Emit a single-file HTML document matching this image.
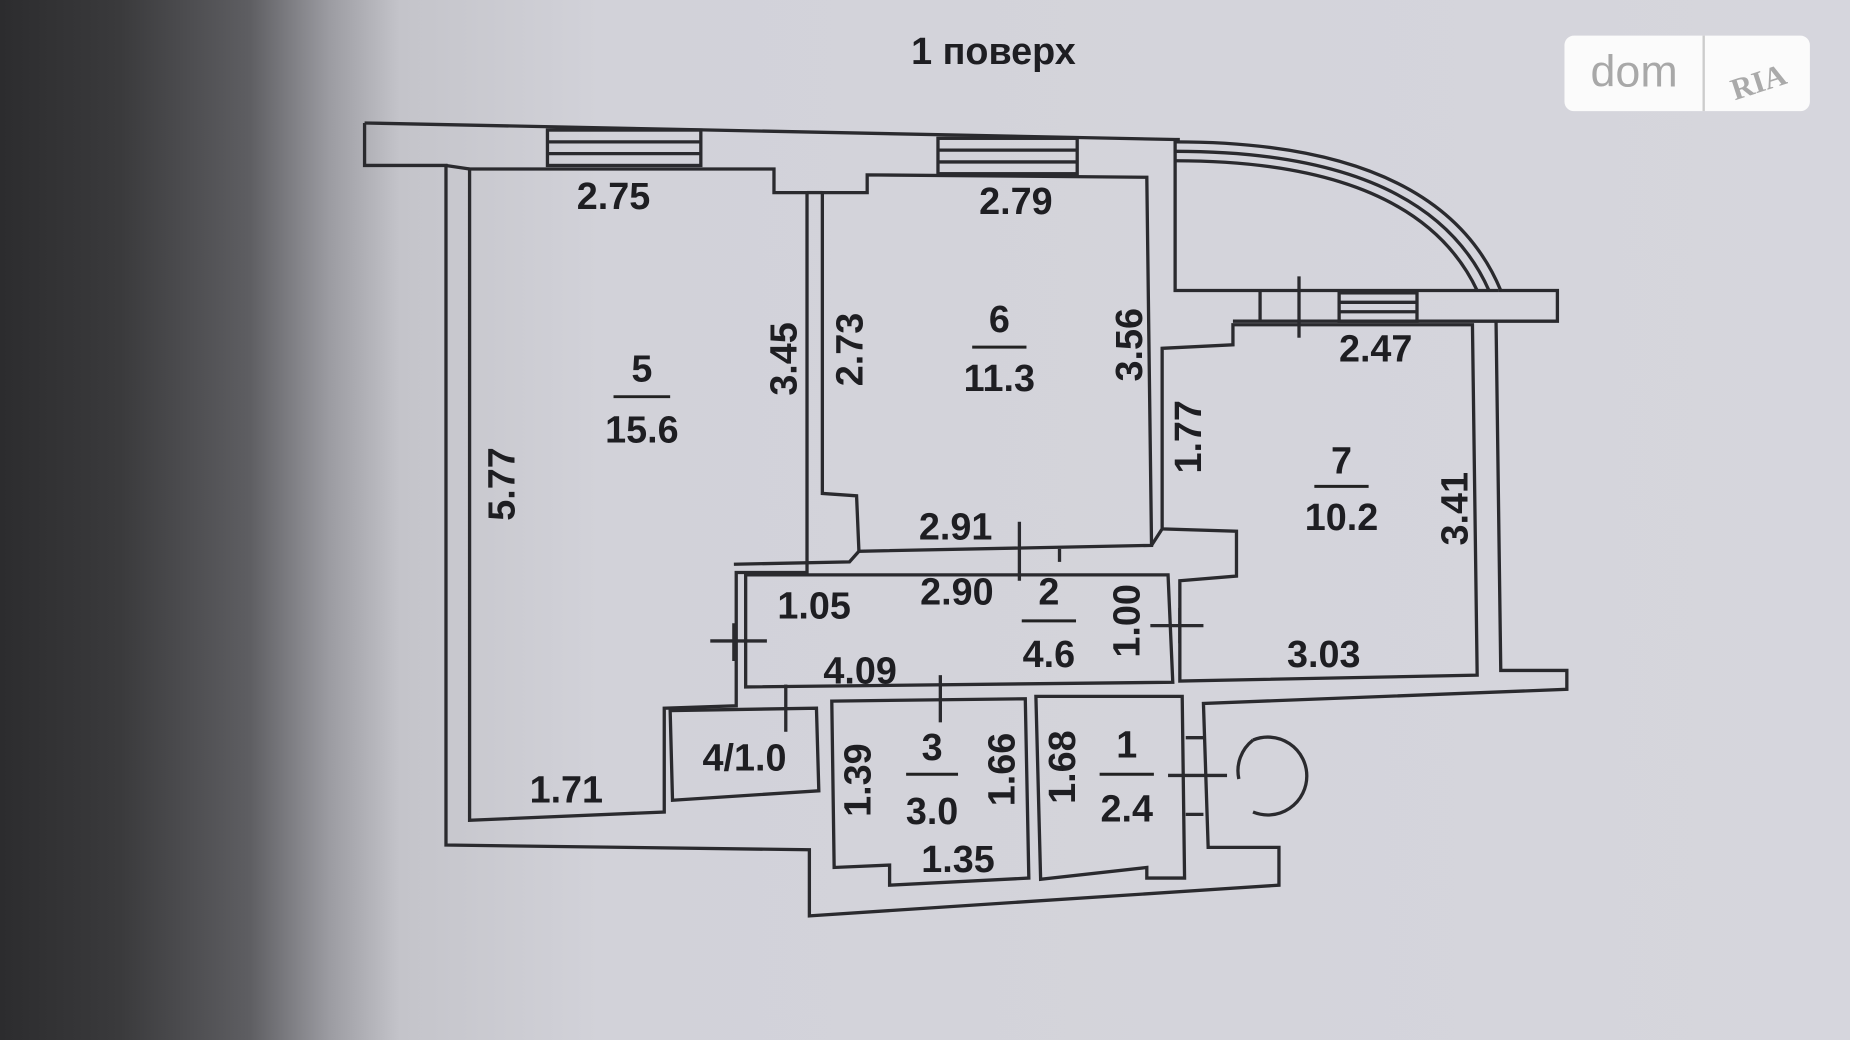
<!DOCTYPE html>
<html><head><meta charset="utf-8"><style>
html,body{margin:0;padding:0;width:1850px;height:1040px;overflow:hidden}
body{background:linear-gradient(90deg,#2c2c2e 0px,#3a3a3c 120px,#5e5e62 250px,#9c9ca2 330px,#c4c4ca 400px,#d2d2d9 600px,#d6d6dd 1850px)}
svg{position:absolute;left:0;top:0}
text{font-family:"Liberation Sans",sans-serif;font-weight:bold;fill:#1e1e22}
</style></head><body>
<svg width="1850" height="1040" viewBox="0 0 1568 881">
<g fill="none" stroke="#2a2a2e" stroke-width="2.8">
<polyline points="309,104 996,118 1000,118"/>
<polyline points="309,104 309,140 378,140 378,716 686,720 686,776 1084,750 1084,718 1024,718 1020,596 1328,584 1328,568 1272,568 1268,272 1320,272 1320,246 1270,246"/>
<polyline points="378,140 398,143"/>
<polygon points="398,143 656,143 656,163 684,163 684,485 624,485 624,598 563,600 563,688 398,695"/>
<polygon points="697,163 735,163 735,148 972,150 976,462 728,467 726,420 697,418"/>
<line x1="684" y1="163" x2="697" y2="163"/>
<polygon points="985,295 1045,292 1045,275 1248,275 1252,572 1000,577 1000,492 1048,488 1048,450 985,448"/>
<polyline points="996,118 996,246 1270,246"/>
<path d="M996,120 Q1220,120 1272,246"/>
<path d="M996,128 Q1210,128 1262,246"/>
<path d="M996,136 Q1200,136 1252,246"/>
<line x1="1068" y1="246" x2="1068" y2="272"/><line x1="1045" y1="272" x2="1268" y2="272"/>
<line x1="1101" y1="234" x2="1101" y2="286"/>
<rect x="464" y="110" width="130" height="30"/><line x1="464" y1="120" x2="594" y2="120"/><line x1="464" y1="130" x2="594" y2="130"/>
<rect x="795" y="117" width="118" height="30"/><line x1="795" y1="127" x2="913" y2="127"/><line x1="795" y1="137" x2="913" y2="137"/>
<rect x="1135" y="248" width="66" height="24"/><line x1="1135" y1="256" x2="1201" y2="256"/><line x1="1135" y1="264" x2="1201" y2="264"/>
<polygon points="632,487 990,487 994,578 632,582"/>
<polyline points="622,478 720,476 728,467"/><polyline points="976,462 985,448"/>
<line x1="898" y1="465" x2="898" y2="476"/><line x1="864" y1="442" x2="864" y2="492"/>
<line x1="602" y1="543" x2="650" y2="543"/><line x1="622" y1="528" x2="622" y2="560"/>
<line x1="975" y1="530" x2="1020" y2="530"/><line x1="1000" y1="515" x2="1000" y2="545"/>
<polygon points="568,602 692,600 694,670 570,678"/>
<line x1="666" y1="580" x2="666" y2="620"/>
<polygon points="705,594 869,592 872,744 754,750 754,733 707,735"/>
<line x1="797" y1="572" x2="797" y2="612"/>
<polygon points="878,590 1002,590 1004,744 972,744 972,735 882,745"/>
<line x1="990" y1="657" x2="1040" y2="657"/><line x1="1005" y1="625" x2="1020" y2="625"/><line x1="1005" y1="690" x2="1020" y2="690"/>
<path d="M1062,627 A33,33 0 1 1 1062,688"/>
<path d="M1062,627 A33,33 0 0 0 1050,660"/>
</g>
<g font-size="32" text-anchor="middle">
<text x="842" y="54">1 поверх</text>
<text x="520" y="177">2.75</text>
<text x="861" y="181">2.79</text>
<text x="1166" y="306">2.47</text>
<text x="544" y="323">5</text><line x1="520" y1="336" x2="568" y2="336" stroke="#222" stroke-width="2.5"/><text x="544" y="375">15.6</text>
<text x="847" y="281">6</text><line x1="824" y1="294" x2="870" y2="294" stroke="#222" stroke-width="2.5"/><text x="847" y="331">11.3</text>
<text x="1137" y="401">7</text><line x1="1114" y1="412" x2="1160" y2="412" stroke="#222" stroke-width="2.5"/><text x="1137" y="449">10.2</text>
<text x="810" y="457">2.91</text>
<text x="811" y="512">2.90</text>
<text x="690" y="524">1.05</text>
<text x="889" y="512">2</text><line x1="866" y1="526" x2="912" y2="526" stroke="#222" stroke-width="2.5"/><text x="889" y="565">4.6</text>
<text x="729" y="579">4.09</text>
<text x="1122" y="565">3.03</text>
<text x="631" y="653">4/1.0</text>
<text x="790" y="644">3</text><line x1="768" y1="656" x2="812" y2="656" stroke="#222" stroke-width="2.5"/><text x="790" y="698">3.0</text>
<text x="955" y="642">1</text><line x1="932" y1="656" x2="978" y2="656" stroke="#222" stroke-width="2.5"/><text x="955" y="696">2.4</text>
<text x="480" y="680">1.71</text>
<text x="812" y="739">1.35</text>
<text transform="translate(436,410) rotate(-90)">5.77</text>
<text transform="translate(675,304) rotate(-90)">3.45</text>
<text transform="translate(731,296) rotate(-90)">2.73</text>
<text transform="translate(968,292) rotate(-90)">3.56</text>
<text transform="translate(1018,370) rotate(-90)">1.77</text>
<text transform="translate(1244,431) rotate(-90)">3.41</text>
<text transform="translate(966,526) rotate(-90)">1.00</text>
<text transform="translate(738,661) rotate(-90)">1.39</text>
<text transform="translate(860,652) rotate(-90)">1.66</text>
<text transform="translate(911,650) rotate(-90)">1.68</text>
</g>
<rect x="1326" y="30" width="208" height="64" rx="8" fill="#fbfbfb"/>
<line x1="1444" y1="30" x2="1444" y2="94" stroke="#ccc" stroke-width="2"/>
<text x="1385" y="73" font-size="38" text-anchor="middle" style="font-weight:normal;fill:#a8a8a8">dom</text>
<text x="1490" y="78" font-size="26" text-anchor="middle" transform="rotate(-18 1490 68)" style="font-family:'Liberation Serif',serif;fill:#aaa">RIA</text>
</svg>
</body></html>
